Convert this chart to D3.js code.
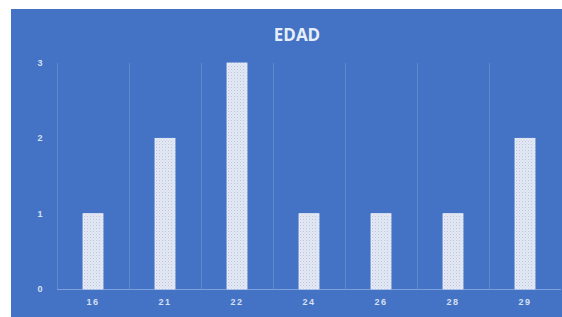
<!DOCTYPE html>
<html><head><meta charset="utf-8">
<script src="https://cdn.jsdelivr.net/npm/d3@7"></script>
<style>body{margin:0;background:#fff}svg{display:block}</style>
</head><body>
<script>
const categories = ["16","21","22","24","26","28","29"];
const values = [1,2,3,1,1,1,2];
const yTicks = [0,1,2,3];
const title = "EDAD";

(function(){
const W = 562, H = 317;
const svg = d3.select("body").append("svg").attr("width", W).attr("height", H);
const defs = svg.append("defs");
const pat = defs.append("pattern").attr("id","dots").attr("patternUnits","userSpaceOnUse")
  .attr("width",3).attr("height",3);
pat.append("rect").attr("width",3).attr("height",3).attr("fill","#e4e9f4");
pat.append("rect").attr("x",0).attr("y",0).attr("width",1).attr("height",1).attr("fill","#b9c5df");
pat.append("rect").attr("x",1.5).attr("y",1.5).attr("width",1).attr("height",1).attr("fill","#c8d2e8");

svg.append("rect").attr("x",11).attr("y",9).attr("width",W-11).attr("height",H-9).attr("fill","#4472c4");

const mL = 57, mR = 561, mT = 63, mB = 289;
const x = d3.scaleBand().domain(categories).range([mL, mR]).paddingInner(0).paddingOuter(0);
const y = d3.scaleLinear().domain([0,3]).range([mB, mT]);

svg.append("g").selectAll("line").data(categories.map(c => x(c))).join("line")
  .attr("x1", d => Math.round(d)+0.5).attr("x2", d => Math.round(d)+0.5).attr("y1", mT).attr("y2", mB)
  .attr("stroke", "#6088d0").attr("stroke-width", 1);

svg.append("line").attr("x1", mL).attr("x2", mR).attr("y1", mB+0.5).attr("y2", mB+0.5)
  .attr("stroke", "#7d9fdb").attr("stroke-width", 1);

const bw = 20;
svg.append("g").selectAll("rect").data(values).join("rect")
  .attr("x", (d,i) => x(categories[i]) + x.bandwidth()/2 - bw/2)
  .attr("y", d => y(d))
  .attr("width", bw)
  .attr("height", d => y(0) - y(d))
  .attr("fill", "url(#dots)")
  .attr("stroke", "#f0f3fa").attr("stroke-width", 0.8);

svg.append("g").selectAll("text").data(yTicks).join("text")
  .attr("x", 40).attr("y", d => y(d)).attr("dy", "0.35em")
  .attr("text-anchor", "middle")
  .attr("font-family", "Liberation Sans, Arial, sans-serif").attr("font-size", 9).attr("font-weight", "bold")
  .attr("fill", "#d6e0f3").text(d => d);

svg.append("g").selectAll("text").data(categories).join("text")
  .attr("x", d => x(d) + x.bandwidth()/2).attr("y", 302)
  .attr("dy", "0.35em").attr("text-anchor", "middle")
  .attr("font-family", "Liberation Sans, Arial, sans-serif").attr("font-size", 9).attr("font-weight", "bold")
  .attr("letter-spacing", "1.5px")
  .attr("fill", "#d6e0f3").text(d => d);

svg.append("text").attr("x", 297).attr("y", 35).attr("dy","0.35em").attr("text-anchor","middle")
  .attr("font-family", "Open Sans, Liberation Sans, sans-serif").attr("font-size", 17).attr("font-weight", "bold")
  .attr("fill", "#e6eefa").text(title);
})();
</script>
</body></html>
